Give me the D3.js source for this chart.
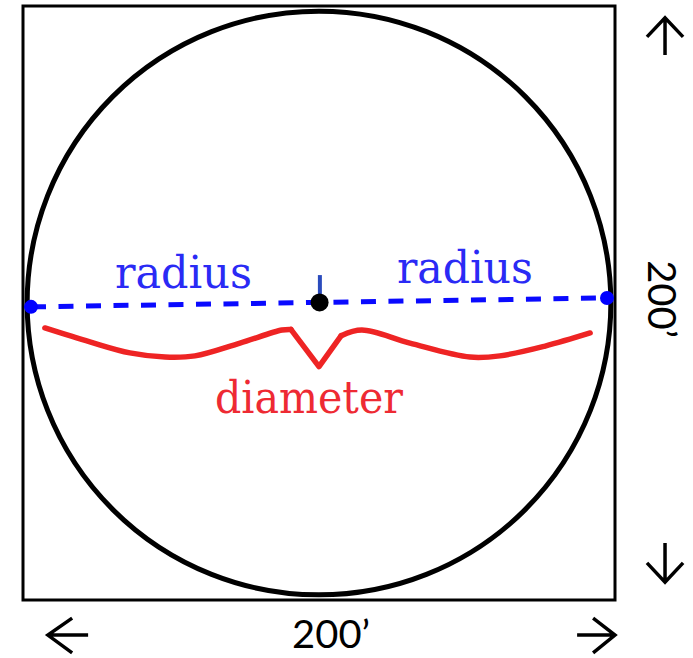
<!DOCTYPE html>
<html>
<head>
<meta charset="utf-8">
<script src="https://cdn.jsdelivr.net/npm/d3@7"></script>
<style>
  html, body { margin: 0; padding: 0; background: #ffffff; }
  svg { display: block; }
</style>
</head>
<body>
<svg id="chart" width="693" height="658"></svg>
<script>
// ---- data (in feet; the lot is 200' x 200') ----
const lotSize = [0, 200];
const circleCenter = [100, 100];
const circleRadius = 98.6;
const diameterEnds = [[2.7, 101.3], [197.3, 98.3]];
const centerPoint = [100.2, 99.8];
const centerTick = [[100.3, 90.6], [100.3, 97]];
const braceLeft = [
  [7.4, 108.4], [22.6, 113.1], [36.1, 116.8], [48.0, 118.2], [58.1, 117.8],
  [73.3, 113.5], [87.5, 109.1], [90.5, 108.9]
];
const braceTip = [[90.5, 108.9], [100.0, 121.4], [107.5, 111.0]];
const braceRight = [
  [107.5, 111.0], [114.5, 109.1], [130.7, 113.5], [151.0, 118.2],
  [161.1, 117.8], [176.4, 114.5], [191.6, 110.1]
];
const labelTexts = ["radius", "radius", "diameter"];
const labelPos = [[54.2, 95.0], [149.3, 93.3], [96.6, 137.0]];
const labelWidths = [137, 136, 188];
const dimensionText = "200\u2019";
const bottomLabelPos = [104.1, 216.2];
const sideLabelPos = [211.1, 98.7];
const arrows = [
  // [tip, tail, wing1, wing2]
  [[8.4, 211.8], [22.0, 211.8], [16.6, 206.1], [16.6, 217.8]],
  [[200.0, 211.8], [187.2, 211.8], [192.6, 206.1], [192.6, 217.8]],
  [[216.9, 4.0], [216.9, 16.5], [210.8, 10.4], [223.0, 10.4]],
  [[216.9, 194.0], [216.9, 180.8], [210.8, 187.5], [223.0, 187.5]]
];

// ---- scales ----
const x = d3.scaleLinear().domain(lotSize).range([23, 615]);
const y = d3.scaleLinear().domain(lotSize).range([6, 600]);

const svg = d3.select("#chart");

// square lot
svg.append("rect")
  .attr("x", x(0)).attr("y", y(0))
  .attr("width", x(200) - x(0)).attr("height", y(200) - y(0))
  .attr("fill", "none").attr("stroke", "#000").attr("stroke-width", 3);

// circle
svg.append("circle")
  .attr("cx", x(circleCenter[0])).attr("cy", y(circleCenter[1]))
  .attr("r", x(circleRadius) - x(0))
  .attr("fill", "none").attr("stroke", "#000").attr("stroke-width", 5);

// dashed diameter
svg.append("line")
  .attr("x1", x(diameterEnds[0][0])).attr("y1", y(diameterEnds[0][1]))
  .attr("x2", x(diameterEnds[1][0])).attr("y2", y(diameterEnds[1][1]))
  .attr("stroke", "#0a0aff").attr("stroke-width", 5)
  .attr("stroke-dasharray", "15,12.5");

// center tick
svg.append("line")
  .attr("x1", x(centerTick[0][0])).attr("y1", y(centerTick[0][1]))
  .attr("x2", x(centerTick[1][0])).attr("y2", y(centerTick[1][1]))
  .attr("stroke", "#2a4bbd").attr("stroke-width", 4);

// end dots
svg.selectAll("circle.end").data(diameterEnds).enter().append("circle")
  .attr("class", "end")
  .attr("cx", d => x(d[0])).attr("cy", d => y(d[1]))
  .attr("r", 7).attr("fill", "#0000ff");

// center dot
svg.append("circle")
  .attr("cx", x(centerPoint[0])).attr("cy", y(centerPoint[1]))
  .attr("r", 9).attr("fill", "#000");

// red brace
const smooth = d3.line().x(d => x(d[0])).y(d => y(d[1])).curve(d3.curveCatmullRom.alpha(0.5));
const straight = d3.line().x(d => x(d[0])).y(d => y(d[1]));
[[braceLeft, smooth], [braceTip, straight], [braceRight, smooth]].forEach(([pts, gen]) => {
  svg.append("path")
    .attr("d", gen(pts))
    .attr("fill", "none").attr("stroke", "#ee2424")
    .attr("stroke-width", 5.5).attr("stroke-linejoin", "round").attr("stroke-linecap", "round");
});

// labels
const labelColors = ["#2a2af5", "#2a2af5", "#ee2a33"];
const labelSizes = [44, 44, 45];
svg.selectAll("text.lbl").data(labelTexts).enter().append("text")
  .attr("class", "lbl")
  .attr("x", (d, i) => x(labelPos[i][0])).attr("y", (d, i) => y(labelPos[i][1]))
  .attr("text-anchor", "middle")
  .attr("font-family", "'DejaVu Serif', serif")
  .attr("font-size", (d, i) => labelSizes[i])
  .attr("textLength", (d, i) => labelWidths[i])
  .attr("lengthAdjust", "spacingAndGlyphs")
  .attr("fill", (d, i) => labelColors[i])
  .text(d => d);

// dimension labels
svg.append("text")
  .attr("x", x(bottomLabelPos[0])).attr("y", y(bottomLabelPos[1]))
  .attr("text-anchor", "middle")
  .attr("font-family", "Lato, 'Open Sans', sans-serif")
  .attr("font-size", 39)
  .attr("textLength", 78).attr("lengthAdjust", "spacingAndGlyphs")
  .attr("fill", "#000")
  .text(dimensionText);

svg.append("text")
  .attr("transform", `translate(${x(sideLabelPos[0])},${y(sideLabelPos[1])}) rotate(90)`)
  .attr("text-anchor", "middle")
  .attr("font-family", "Lato, 'Open Sans', sans-serif")
  .attr("font-size", 39)
  .attr("textLength", 78).attr("lengthAdjust", "spacingAndGlyphs")
  .attr("fill", "#000")
  .text(dimensionText);

// arrows
const arrowG = svg.selectAll("g.arrow").data(arrows).enter().append("g").attr("class", "arrow");
arrowG.append("path")
  .attr("d", d => {
    const [tip, tail, w1, w2] = d;
    return `M${x(tail[0])},${y(tail[1])}L${x(tip[0])},${y(tip[1])}` +
           `M${x(w1[0])},${y(w1[1])}L${x(tip[0])},${y(tip[1])}L${x(w2[0])},${y(w2[1])}`;
  })
  .attr("fill", "none").attr("stroke", "#000").attr("stroke-width", 3.5)
  .attr("stroke-linejoin", "miter");
</script>
</body>
</html>
